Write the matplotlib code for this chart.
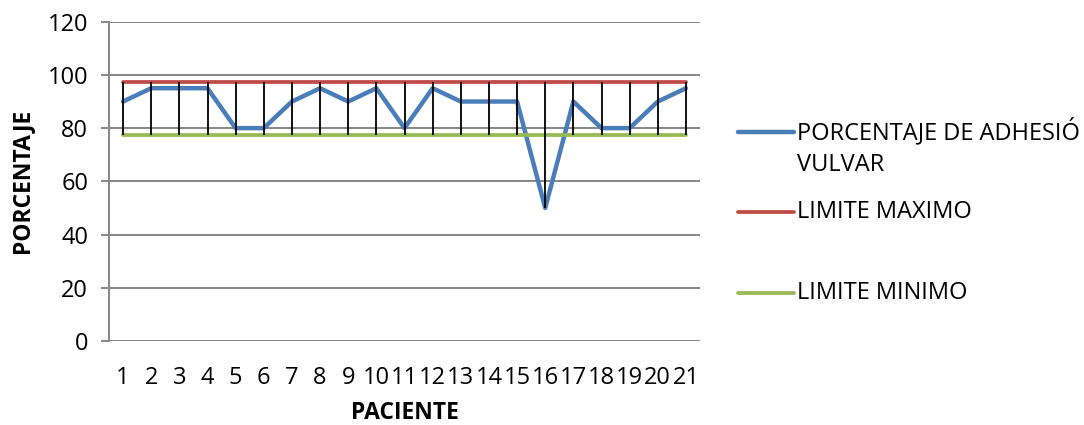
import matplotlib
matplotlib.use("Agg")
import matplotlib.pyplot as plt
from matplotlib.lines import Line2D
import numpy as np

plt.rcParams['font.family'] = ['Open Sans', 'DejaVu Sans']

pacientes = list(range(1, 22))
adhesion = [90, 95, 95, 95, 80, 80, 90, 95, 90, 95, 80, 95, 90, 90, 90, 50, 90, 80, 80, 90, 95]
limite_max = [97.5] * 21
limite_min = [77.5] * 21
labels = ["PORCENTAJE DE ADHESIÓ\nVULVAR", "LIMITE MAXIMO", "LIMITE MINIMO"]
colors = ["#4A7EBB", "#BE4B48", "#98B954"]
yticks = [0, 20, 40, 60, 80, 100, 120]

fig = plt.figure(figsize=(10.84, 4.25), dpi=100)
ax = fig.add_axes([109/1084, 1 - 341/425, 591/1084, (341 - 21.7)/425])

x = np.array(pacientes)
ax.plot(x, adhesion, color=colors[0], lw=3.2, solid_capstyle='round', solid_joinstyle='round', zorder=3)
ax.plot(x, limite_max, color=colors[1], lw=2.7, solid_capstyle='round', zorder=3)
ax.plot(x, limite_min, color=colors[2], lw=2.7, solid_capstyle='round', zorder=3)

lo = np.minimum(np.minimum(adhesion, limite_max), limite_min)
hi = np.maximum(np.maximum(adhesion, limite_max), limite_min)
ax.vlines(x, lo, hi, color='black', lw=1.3, zorder=4)

ax.set_xlim(0.5, 21.5)
ax.set_ylim(0, 120)
ax.set_yticks(yticks)
ax.set_xticks(x)
ax.set_xticklabels([str(p) for p in pacientes])
ax.yaxis.grid(True, color='#868686', lw=1.4)
ax.set_axisbelow(True)
for s in ['top', 'right', 'bottom']:
    ax.spines[s].set_visible(False)
ax.spines['left'].set_color('#868686')
ax.spines['left'].set_linewidth(1.4)
ax.tick_params(axis='y', length=6, width=1.4, color='#868686', labelsize=17, pad=9)
ax.tick_params(axis='x', length=0, labelsize=17, pad=18)
ax.set_xlabel("PACIENTE", fontsize=16.5, fontweight='bold', labelpad=8)
ax.set_ylabel("PORCENTAJE", fontsize=16.5, fontweight='bold', labelpad=10)

# legend (manual layout to mimic Excel)
ys = [132, 212, 293]
for lab, col, yp in zip(labels, colors, ys):
    yf = 1 - yp / 425
    fig.add_artist(Line2D([738/1084, 794/1084], [yf, yf], color=col,
                          lw=3.2 if col == colors[0] else 2.7, solid_capstyle='round'))
    first, *rest = lab.split("\n")
    fig.text(797/1084, yf, first, fontsize=17, va='center', ha='left')
    for i, r in enumerate(rest):
        fig.text(797/1084, 1 - (yp + 33*(i+1)) / 425, r, fontsize=17, va='center', ha='left')

fig.savefig("out.png", dpi=100)
